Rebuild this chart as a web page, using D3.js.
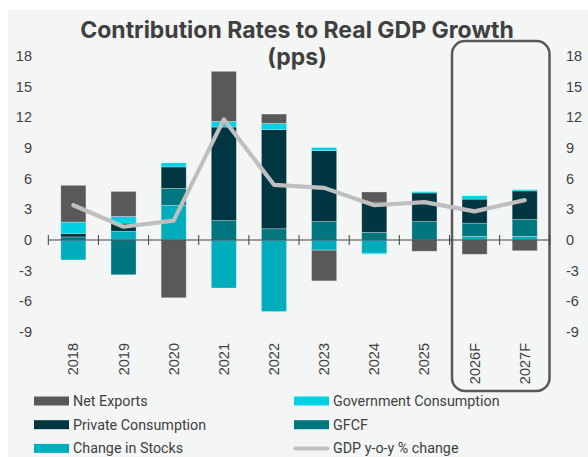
<!DOCTYPE html>
<html>
<head>
<meta charset="utf-8">
<script src="https://cdn.jsdelivr.net/npm/d3@7"></script>
<style>
  body { margin: 0; background: #fff; }
  svg { display: block; }
</style>
</head>
<body>
<svg id="chart" width="588" height="457"></svg>
<script>
// contributions to real GDP growth, stacked columns + GDP line
var years = ['2018', '2019', '2020', '2021', '2022', '2023', '2024', '2025', '2026F', '2027F'];
var changeInStocks = [-1.95, 0.85, 3.4, -4.7, -7.0, -1.0, -1.3, 0, 0.35, 0.35];
var gfcf = [0.3, -3.4, 1.65, 1.9, 1.1, 1.8, 0.75, 1.8, 1.3, 1.65];
var privateCons = [0.35, 0.8, 2.1, 9.15, 9.7, 6.95, 2.95, 2.8, 2.35, 2.8];
var govCons = [1.1, 0.65, 0.4, 0.55, 0.6, 0.3, -0.1, 0.13, 0.33, 0.13];
var netExports = [3.6, 2.45, -5.65, 4.9, 0.92, -3.0, 1.0, -1.1, -1.4, -1.05];
var gdpGrowth = [3.4, 1.3, 1.9, 11.8, 5.4, 5.1, 3.4, 3.7, 2.8, 3.9];
var yTicks = [-9, -6, -3, 0, 3, 6, 9, 12, 15, 18];

// stack order bottom -> top
var series = [
  { key: 'stocks', name: 'Change in Stocks', values: changeInStocks, color: '#00adbd' },
  { key: 'gfcf', name: 'GFCF', values: gfcf, color: '#00767f' },
  { key: 'priv', name: 'Private Consumption', values: privateCons, color: '#003641' },
  { key: 'gov', name: 'Government Consumption', values: govCons, color: '#00d0e4' },
  { key: 'nx', name: 'Net Exports', values: netExports, color: '#595959' }
];
var lineColor = '#bfbfbf';
var textColor = '#404040';

var svg = d3.select('#chart');
// panel background
svg.append('rect').attr('x', 8).attr('y', 10).attr('width', 580).attr('height', 447).attr('fill', '#f4f6f6');

var x = d3.scaleBand().domain(years).range([48.3, 549.8]).paddingInner(0.5).paddingOuter(0.25);
var y = d3.scaleLinear().domain([-9, 18]).range([332, 56]);

var rows = years.map(function(yr, i) {
  var r = { year: yr };
  series.forEach(function(s) { r[s.key] = s.values[i]; });
  return r;
});
var stacked = d3.stack().keys(series.map(function(s) { return s.key; })).offset(d3.stackOffsetDiverging)(rows);

// title
svg.append('text').attr('x', 297).attr('y', 37.5).attr('text-anchor', 'middle')
  .attr('font-family', 'Inter, "Open Sans", sans-serif').attr('font-weight', 700).attr('font-size', 23)
  .attr('fill', textColor).text('Contribution Rates to Real GDP Growth');
svg.append('text').attr('x', 297).attr('y', 65).attr('text-anchor', 'middle')
  .attr('font-family', 'Inter, "Open Sans", sans-serif').attr('font-weight', 700).attr('font-size', 23)
  .attr('fill', textColor).text('(pps)');

// forecast highlight box
svg.append('rect').attr('x', 452).attr('y', 41).attr('width', 97.5).attr('height', 350)
  .attr('rx', 13).attr('fill', 'none').attr('stroke', '#595959').attr('stroke-width', 2.5);

// bars
svg.append('g').selectAll('g').data(stacked).join('g')
  .attr('fill', function(d, i) { return series[i].color; })
  .selectAll('rect').data(function(d) { return d; }).join('rect')
  .attr('x', function(d) { return x(d.data.year); })
  .attr('width', x.bandwidth())
  .attr('y', function(d) { return y(Math.max(d[0], d[1])); })
  .attr('height', function(d) { return Math.abs(y(d[0]) - y(d[1])); })
  .attr('stroke', 'rgba(255,255,255,0.35)').attr('stroke-width', 0.8);

// x axis with ticks between categories
var xAxisG = svg.append('g');
xAxisG.append('line').attr('x1', 48.3).attr('x2', 549.8).attr('y1', y(0)).attr('y2', y(0))
  .attr('stroke', textColor).attr('stroke-width', 1.2);
var bounds = years.map(function(yr) { return x(yr) - (x.step() - x.bandwidth()) / 2; });
bounds.push(549.8);
xAxisG.selectAll('.tk').data(bounds).join('line').attr('class', 'tk')
  .attr('x1', function(d) { return d; }).attr('x2', function(d) { return d; })
  .attr('y1', y(0) - 5).attr('y2', y(0) + 5).attr('stroke', textColor).attr('stroke-width', 1);
xAxisG.selectAll('.lbl').data(years).join('text').attr('class', 'lbl')
  .attr('transform', function(d) { return 'translate(' + (x(d) + x.bandwidth() / 2 + 5) + ',343) rotate(-90)'; })
  .attr('text-anchor', 'end')
  .attr('font-family', '"Liberation Sans", Arial, sans-serif').attr('font-size', 14.5)
  .attr('fill', textColor).text(function(d) { return d; });

// y axes labels (both sides)
var yl = svg.append('g').attr('font-family', '"Liberation Sans", Arial, sans-serif').attr('font-size', 14.5).attr('fill', textColor);
yl.selectAll('.yl').data(yTicks).join('text').attr('class', 'yl')
  .attr('x', 32).attr('y', function(d) { return y(d); }).attr('dy', '0.35em')
  .attr('text-anchor', 'end').text(function(d) { return d; });
yl.selectAll('.yr').data(yTicks).join('text').attr('class', 'yr')
  .attr('x', 566).attr('y', function(d) { return y(d); }).attr('dy', '0.35em')
  .attr('text-anchor', 'start').text(function(d) { return d; });

// gdp line
svg.append('path').datum(gdpGrowth)
  .attr('d', d3.line().x(function(d, i) { return x(years[i]) + x.bandwidth() / 2; }).y(function(d) { return y(d); }))
  .attr('fill', 'none').attr('stroke', lineColor).attr('stroke-width', 4.2)
  .attr('stroke-linejoin', 'round').attr('stroke-linecap', 'round');

// legend
var legendItems = [
  { name: 'Net Exports', color: '#595959', col: 0, row: 0 },
  { name: 'Government Consumption', color: '#00d0e4', col: 1, row: 0 },
  { name: 'Private Consumption', color: '#003641', col: 0, row: 1 },
  { name: 'GFCF', color: '#00767f', col: 1, row: 1 },
  { name: 'Change in Stocks', color: '#00adbd', col: 0, row: 2 },
  { name: 'GDP y-o-y % change', color: lineColor, col: 1, row: 2, line: true }
];
var lg = svg.append('g').selectAll('g').data(legendItems).join('g')
  .attr('transform', function(d) { return 'translate(' + (d.col ? 294 : 34) + ',' + (401 + d.row * 23.7) + ')'; });
lg.filter(function(d) { return !d.line; }).append('rect')
  .attr('x', 0).attr('y', -4.5).attr('width', 35).attr('height', 9).attr('fill', function(d) { return d.color; });
lg.filter(function(d) { return d.line; }).append('line')
  .attr('x1', 1.5).attr('x2', 33.5).attr('y1', 0).attr('y2', 0)
  .attr('stroke', lineColor).attr('stroke-width', 4).attr('stroke-linecap', 'round');
lg.append('text').attr('x', 39).attr('y', 0).attr('dy', '0.35em')
  .attr('font-family', 'Roboto, "Liberation Sans", sans-serif').attr('font-size', 14.3)
  .attr('fill', textColor).text(function(d) { return d.name; });
</script>
</body>
</html>
